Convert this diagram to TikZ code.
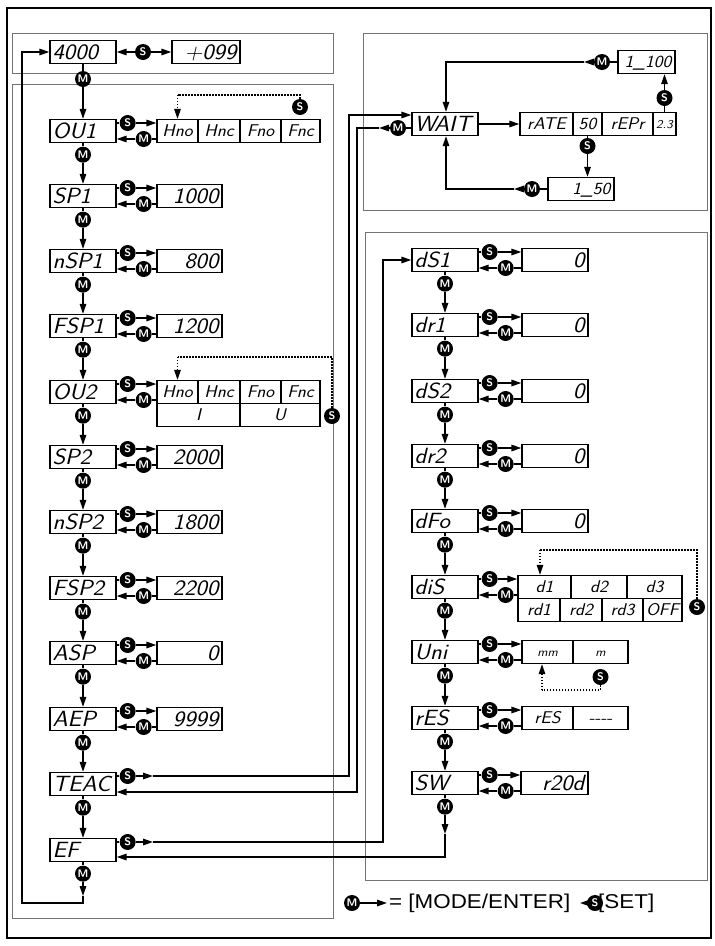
\documentclass[tikz,border=0pt]{standalone}
\usepackage{fontspec}
\newfontfamily\legendfont{Liberation Sans}
\usetikzlibrary{arrows.meta}
\newcommand{\lcd}[1]{\scalebox{1.1}[1]{#1}}
\tikzset{
  lcdbox/.style={draw, line width=1.3pt, inner sep=0pt},
  lcdA/.style={inner sep=0pt, text depth=0pt, text height=15.3pt, font=\fontsize{22}{23}\selectfont\sffamily\slshape},
  lcdB/.style={inner sep=0pt, text depth=0pt, text height=11.8pt, font=\fontsize{17}{18}\selectfont\sffamily\slshape},
  lcdC/.style={inner sep=0pt, text depth=0pt, text height=8.3pt, font=\fontsize{12}{13}\selectfont\sffamily\slshape},
  btn/.style={circle, fill=black, text=white, inner sep=0pt, minimum size=16pt, font=\fontsize{11}{11}\selectfont\sffamily\bfseries},
  conn/.style={line width=1.5pt},
  arr/.style={line width=1.5pt, -{Triangle[length=10pt,width=6.5pt]}},
  dots/.style={line width=1.4pt, dash pattern=on 1.4pt off 1.6pt},
  dotarr/.style={line width=1.4pt, dash pattern=on 1.4pt off 1.6pt, -{Triangle[length=10pt,width=6.5pt]}},
  panel/.style={draw=black!55, line width=1pt},
}
% main display box with left aligned label
\newcommand{\mainbox}[4]{%
  \node[lcdbox, minimum width=66pt, minimum height=23pt] (#1) at (#2,#3) {};
  \node[lcdA, anchor=west] (#1t) at ([xshift=3pt]#1.west) {\lcd{#4}};}
% value box, right aligned text: name, cx, cy, width, style, text
\newcommand{\vbR}[6]{%
  \node[lcdbox, minimum width=#4pt, minimum height=23pt] (#1) at (#2,#3) {};
  \node[#5, anchor=east] (#1t) at ([xshift=-4pt]#1.east) {\lcd{#6}};}
% value cell, centred text
\newcommand{\vbC}[6]{%
  \node[lcdbox, minimum width=#4pt, minimum height=23pt] (#1) at (#2,#3) {};
  \node[#5] (#1t) at (#1.center) {\lcd{#6}};}
% S / M pair between a main box and its value box
\newcommand{\smpair}[2]{%
  \node[btn] (#1s) at ([xshift=11pt,yshift=8pt]#1.east) {S};
  \node[btn] (#1m) at ([xshift=27pt,yshift=-8pt]#1.east) {M};
  \draw[conn] (#1.east |- #1s) -- (#1s);
  \draw[arr] (#1s) -- (#2.west |- #1s);
  \draw[conn] (#2.west |- #1m) -- (#1m);
  \draw[arr] (#1m) -- (#1.east |- #1m);}
% M step down
\newcommand{\mdown}[2]{%
  \node[btn] (#1d) at ([yshift=-11.5pt]#1.south) {M};
  \draw[conn] (#1.south) -- (#1d);
  \draw[arr] (#1d) -- (#2.north);}
\begin{document}
\begin{tikzpicture}[x=1pt,y=-1pt]
\useasboundingbox (0,0) rectangle (715,946);
\fill[white] (0,0) rectangle (715,946);
% frames
\draw[line width=1.2pt] (7,8) rectangle (711,938);
\draw[line width=2pt] (711,8) -- (711,938) -- (7,938);
\draw[panel] (12,33) rectangle (333,73);
\draw[panel] (12,84) rectangle (333,918);
\draw[panel] (363,33) rectangle (707,210);
\draw[panel] (365,232) rectangle (707,880);

% ---------------- left column ----------------
\mainbox{r0}{83}{52}{4000}
\vbR{v0}{206}{52}{68}{lcdA}{+099}
\node[btn] (r0s) at (143,52) {S};
\draw[arr] (r0s) -- (r0.east);
\draw[arr] (r0s) -- (v0.west);
\node[btn] (r0d) at (83,79) {M};

\mainbox{ou1}{83}{131}{OU1}
\vbC{ou1a}{177.5}{131}{41}{lcdB}{Hno}
\vbC{ou1b}{219}{131}{42}{lcdB}{Hnc}
\vbC{ou1c}{260.5}{131}{41}{lcdB}{Fno}
\vbC{ou1e}{300.5}{131}{39}{lcdB}{Fnc}
\draw[conn] (r0.south) -- (r0d);
\draw[arr] (r0d) -- (ou1.north);
\smpair{ou1}{ou1a}
\node[btn] (ou1loop) at (300,107) {S};
\coordinate (ou1p) at (300,95);
\coordinate (ou1q) at (177.5,95);
\draw[dots] (ou1loop) -- (ou1p) -- (ou1q);
\draw[dotarr] (ou1q) -- (ou1a.north);

\mainbox{sp1}{83}{196}{SP1}
\vbR{sp1v}{189.5}{196}{65}{lcdA}{1000}
\smpair{sp1}{sp1v}
\mdown{ou1}{sp1}

\mainbox{nsp1}{83}{261}{nSP1}
\vbR{nsp1v}{189.5}{261}{65}{lcdA}{800}
\smpair{nsp1}{nsp1v}
\mdown{sp1}{nsp1}

\mainbox{fsp1}{83}{326}{FSP1}
\vbR{fsp1v}{189.5}{326}{65}{lcdA}{1200}
\smpair{fsp1}{fsp1v}
\mdown{nsp1}{fsp1}

\mainbox{ou2}{83}{392}{OU2}
\vbC{ou2a}{177.5}{392}{41}{lcdB}{Hno}
\vbC{ou2b}{219}{392}{42}{lcdB}{Hnc}
\vbC{ou2c}{260.5}{392}{41}{lcdB}{Fno}
\vbC{ou2e}{300.5}{392}{39}{lcdB}{Fnc}
\vbC{ou2f}{198.5}{415}{83}{lcdB}{I}
\vbC{ou2g}{280}{415}{80}{lcdB}{U}
\smpair{ou2}{ou2a}
\mdown{fsp1}{ou2}
\node[btn] (ou2loop) at (332,416) {S};
\coordinate (ou2p) at (332,357);
\coordinate (ou2q) at (177.5,357);
\draw[dots] (ou2loop) -- (ou2p) -- (ou2q);
\draw[dotarr] (ou2q) -- (ou2a.north);

\mainbox{sp2}{83}{457}{SP2}
\vbR{sp2v}{189.5}{457}{65}{lcdA}{2000}
\smpair{sp2}{sp2v}
\mdown{ou2}{sp2}

\mainbox{nsp2}{83}{522}{nSP2}
\vbR{nsp2v}{189.5}{522}{65}{lcdA}{1800}
\smpair{nsp2}{nsp2v}
\mdown{sp2}{nsp2}

\mainbox{fsp2}{83}{588}{FSP2}
\vbR{fsp2v}{189.5}{588}{65}{lcdA}{2200}
\smpair{fsp2}{fsp2v}
\mdown{nsp2}{fsp2}

\mainbox{asp}{83}{653}{ASP}
\vbR{aspv}{189.5}{653}{65}{lcdA}{0}
\smpair{asp}{aspv}
\mdown{fsp2}{asp}

\mainbox{aep}{83}{719}{AEP}
\vbR{aepv}{189.5}{719}{65}{lcdA}{9999}
\smpair{aep}{aepv}
\mdown{asp}{aep}

\mainbox{teac}{83}{784}{TEAC}
\mdown{aep}{teac}

\mainbox{ef}{83}{850}{EF}
\mdown{teac}{ef}

% ---------------- WAIT panel ----------------
\mainbox{wait}{445}{124}{WAIT}
\vbC{crate}{546.5}{124}{53}{lcdB}{rATE}
\vbC{c50}{587.5}{124}{29}{lcdB}{50}
\vbC{crepr}{627.5}{124}{51}{lcdB}{rEPr}
\vbC{c23}{664.5}{124}{23}{lcdC}{2.3}
\vbR{i100}{646.5}{62}{57}{lcdB}{1\_100}
\vbR{i50}{581}{189}{66}{lcdB}{1\_50}
\draw[arr] (wait.east) -- (crate.west);
\node[btn] (s50) at (587.5,146) {S};
\draw[conn] (c50.south) -- (s50);
\draw[arr] (s50) -- (s50 |- i50.north);
\node[btn] (s23) at (664.5,98) {S};
\draw[conn] (c23.north) -- (s23);
\draw[arr] (s23) -- (s23 |- i100.south);
\node[btn] (m100) at (602,62) {M};
\coordinate (m100a) at (584,62);
\coordinate (m100b) at (446,62);
\draw[conn] (i100.west) -- (m100);
\draw[arr] (m100) -- (m100a);
\draw[arr] (m100a) -- (m100b) -- (m100b |- wait.north);
\node[btn] (m50) at (532,189) {M};
\coordinate (m50a) at (514,189);
\coordinate (m50b) at (446,189);
\draw[conn] (i50.west) -- (m50);
\draw[arr] (m50) -- (m50a);
\draw[arr] (m50a) -- (m50b) -- (m50b |- wait.south);

% TEAC <-> WAIT
\node[btn] (teacs) at ([xshift=11pt,yshift=8pt]teac.east) {S};
\coordinate (ta) at (153,776);
\coordinate (tb) at (349,776);
\coordinate (tc) at (349,115);
\draw[conn] (teac.east |- teacs) -- (teacs);
\draw[arr] (teacs) -- (ta);
\draw[arr] (ta) -- (tb) -- (tc) -- (tc -| wait.west);
\node[btn] (waitm) at (398,128) {M};
\coordinate (wa) at (379,128);
\coordinate (wb) at (357,128);
\coordinate (wc) at (357,792);
\draw[conn] (wait.west |- waitm) -- (waitm);
\draw[arr] (waitm) -- (wa);
\draw[arr] (wa) -- (wb) -- (wc) -- (wc -| teac.east);

% ---------------- right column ----------------
\mainbox{ds1}{445}{260}{dS1}
\vbR{ds1v}{555}{260}{66}{lcdA}{0}
\smpair{ds1}{ds1v}

\mainbox{dr1}{445}{325}{dr1}
\vbR{dr1v}{555}{325}{66}{lcdA}{0}
\smpair{dr1}{dr1v}
\mdown{ds1}{dr1}

\mainbox{ds2}{445}{391}{dS2}
\vbR{ds2v}{555}{391}{66}{lcdA}{0}
\smpair{ds2}{ds2v}
\mdown{dr1}{ds2}

\mainbox{dr2}{445}{456}{dr2}
\vbR{dr2v}{555}{456}{66}{lcdA}{0}
\smpair{dr2}{dr2v}
\mdown{ds2}{dr2}

\mainbox{dfo}{445}{521}{dFo}
\vbR{dfov}{555}{521}{66}{lcdA}{0}
\smpair{dfo}{dfov}
\mdown{dr2}{dfo}

\mainbox{dis}{445}{587}{diS}
\vbC{disa}{544.5}{587}{53}{lcdB}{d1}
\vbC{disb}{599}{587}{56}{lcdB}{d2}
\vbC{disc}{654.5}{587}{55}{lcdB}{d3}
\vbC{disd}{539}{610}{42}{lcdB}{rd1}
\vbC{dise}{581}{610}{42}{lcdB}{rd2}
\vbC{disf}{622.5}{610}{41}{lcdB}{rd3}
\vbC{disg}{662.5}{610}{39}{lcdB}{OFF}
\smpair{dis}{disa}
\mdown{dfo}{dis}
\node[btn] (disloop) at (697,607) {S};
\coordinate (disp) at (697,550);
\coordinate (disq) at (540,550);
\draw[dots] (disloop) -- (disp) -- (disq);
\draw[dotarr] (disq) -- (disq |- disa.north);

\mainbox{uni}{445}{652}{Uni}
\vbC{unia}{547.5}{652}{51}{lcdC}{mm}
\vbC{unib}{600.5}{652}{55}{lcdC}{m}
\smpair{uni}{unia}
\mdown{dis}{uni}
\node[btn] (uniloop) at (600.5,677) {S};
\coordinate (unip) at (600.5,690);
\coordinate (uniq) at (542,690);
\draw[dots] (uniloop) -- (unip) -- (uniq);
\draw[dotarr] (uniq) -- (uniq |- unia.south);

\mainbox{res}{445}{718}{rES}
\vbC{resa}{547.5}{718}{51}{lcdB}{rES}
\vbC{resb}{600.5}{718}{55}{lcdB}{-{}-{}-{}-}
\smpair{res}{resa}
\mdown{uni}{res}

\mainbox{sw}{445}{783}{SW}
\vbR{swv}{554.5}{783}{67}{lcdA}{r20d}
\smpair{sw}{swv}
\mdown{res}{sw}

% EF <-> dS1 / SW
\node[btn] (efs) at ([xshift=11pt,yshift=8pt]ef.east) {S};
\coordinate (ea) at (153,842);
\coordinate (eb) at (383,842);
\coordinate (ec) at (383,260);
\draw[conn] (ef.east |- efs) -- (efs);
\draw[arr] (efs) -- (ea);
\draw[arr] (ea) -- (eb) -- (ec) -- (ds1.west);
\node[btn] (swd) at ([yshift=-11.5pt]sw.south) {M};
\coordinate (sa) at (445,834);
\coordinate (sb) at (445,857);
\draw[conn] (sw.south) -- (swd);
\draw[arr] (swd) -- (sa);
\draw[arr] (sa) -- (sb) -- (sb -| ef.east);

% EF -> back to 4000
\node[btn] (efd) at ([yshift=-11.5pt]ef.south) {M};
\coordinate (la) at (83,896);
\coordinate (lb) at (83,903);
\coordinate (lc) at (22,903);
\coordinate (ld) at (22,52);
\draw[conn] (ef.south) -- (efd);
\draw[arr] (efd) -- (la);
\draw[arr] (la) -- (lb) -- (lc) -- (ld) -- (r0.west);

% legend
\node[btn] (lgm) at (352,903) {M};
\coordinate (lgma) at (387,903);
\draw[arr] (lgm) -- (lgma);
\node[anchor=west, inner sep=0pt, font=\legendfont\fontsize{20}{22}\selectfont] (lgt1) at (389,903) {\scalebox{1.12}[1]{= [MODE/ENTER]}};
\node[btn] (lgs) at (595,903) {S};
\coordinate (lgsa) at (580,903);
\draw[arr] (lgs) -- (lgsa);
\node[anchor=west, inner sep=0pt, font=\legendfont\fontsize{20}{22}\selectfont] (lgt2) at (598,903) {\scalebox{1.12}[1]{[SET]}};
\end{tikzpicture}
\end{document}
